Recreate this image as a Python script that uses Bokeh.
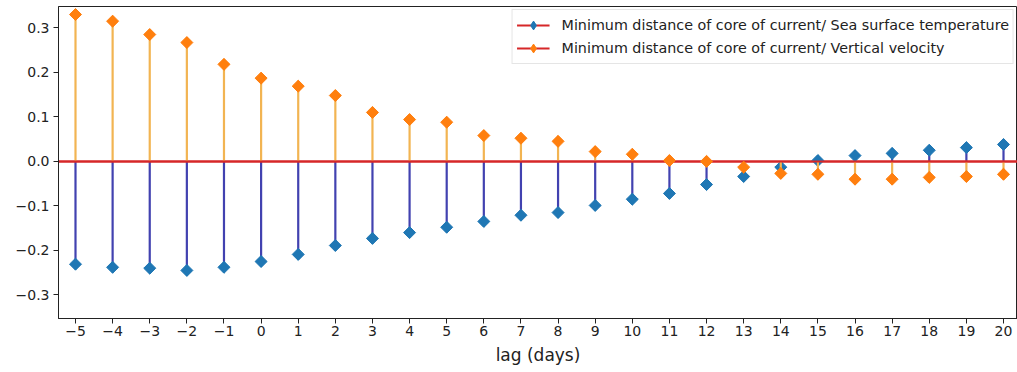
import numpy as np
from bokeh.plotting import figure
from bokeh.models import Range1d, FixedTicker, Legend, LegendItem
from bokeh.embed import file_html
from bokeh.resources import INLINE

# ---- data ----
lags = list(range(-5, 21))
sst_corr = [-0.231, -0.238, -0.240, -0.245, -0.238, -0.225, -0.209, -0.189, -0.173,
            -0.160, -0.148, -0.135, -0.121, -0.115, -0.099, -0.085, -0.072, -0.052,
            -0.034, -0.013, 0.002, 0.013, 0.018, 0.025, 0.031, 0.038]
vv_corr = [0.330, 0.315, 0.285, 0.267, 0.218, 0.187, 0.169, 0.148, 0.110, 0.094,
           0.088, 0.058, 0.052, 0.045, 0.022, 0.016, 0.002, 0.000, -0.013, -0.027,
           -0.029, -0.040, -0.040, -0.036, -0.034, -0.029]
labels = ["Minimum distance of core of current/ Sea surface temperature",
          "Minimum distance of core of current/ Vertical velocity"]
y_ticks = [-0.3, -0.2, -0.1, 0.0, 0.1, 0.2, 0.3]
y_tick_labels = ["\u22120.3", "\u22120.2", "\u22120.1", "0.0", "0.1", "0.2", "0.3"]
x_tick_labels = [str(v).replace("-", "\u2212") for v in lags]
x_label = "lag (days)"

FONT = "DejaVu Sans"
X0, X1 = -5.458, 20.377
Y0, Y1 = -0.353, 0.348

p = figure(width=1017, height=372, output_backend="svg", toolbar_location=None,
           x_range=Range1d(X0, X1), y_range=Range1d(Y0, Y1),
           min_border_left=58, min_border_right=0, min_border_top=6,
           min_border_bottom=54, background_fill_color="white",
           border_fill_color="white")
p.outline_line_color = "#222222"
p.outline_line_width = 1
p.xgrid.visible = False
p.ygrid.visible = False

zeros = [0.0] * len(lags)

# SST series
p.segment(x0=lags, y0=zeros, x1=lags, y1=sst_corr, line_color="#4242b0", line_width=2.2)
base1 = p.line(x=[X0, X1], y=[0, 0], line_color="#d62728", line_width=2)
# diamond drawn underneath the rotated squares (used as legend glyph)
lg1 = p.scatter(x=lags, y=sst_corr, marker="diamond", size=11,
                fill_color="#1f77b4", line_color="#1f77b4")
m1 = p.scatter(x=lags, y=sst_corr, marker="square", angle=np.pi / 4, size=8.5,
               fill_color="#1f77b4", line_color="#1f77b4")
# Vertical velocity series
p.segment(x0=lags, y0=zeros, x1=lags, y1=vv_corr, line_color="#f2b452", line_width=2.2)
base2 = p.line(x=[X0, X1], y=[0, 0], line_color="#d62728", line_width=2)
lg2 = p.scatter(x=lags, y=vv_corr, marker="diamond", size=11,
                fill_color="#ff7f0e", line_color="#ff7f0e")
m2 = p.scatter(x=lags, y=vv_corr, marker="square", angle=np.pi / 4, size=8.5,
               fill_color="#ff7f0e", line_color="#ff7f0e")

# axes
p.xaxis.ticker = FixedTicker(ticks=lags)
p.xaxis.major_label_overrides = {v: s for v, s in zip(lags, x_tick_labels)}
p.yaxis.ticker = FixedTicker(ticks=y_ticks)
p.yaxis.major_label_overrides = {v: s for v, s in zip(y_ticks, y_tick_labels)}
for ax in (p.xaxis[0], p.yaxis[0]):
    ax.major_label_text_font = FONT
    ax.major_label_text_font_size = "14px"
    ax.major_label_text_color = "#222222"
    ax.major_tick_out = 5
    ax.major_tick_in = 0
    ax.minor_tick_out = 0
    ax.minor_tick_in = 0
    ax.axis_line_color = "#222222"
    ax.major_tick_line_color = "#222222"
p.xaxis.major_label_standoff = 2
p.yaxis.major_label_standoff = 4
p.xaxis.axis_label = x_label
p.xaxis.axis_label_text_font = FONT
p.xaxis.axis_label_text_font_size = "17px"
p.xaxis.axis_label_text_font_style = "normal"
p.xaxis.axis_label_text_color = "#222222"
p.xaxis.axis_label_standoff = 6

legend = Legend(items=[LegendItem(label=labels[0], renderers=[base1, lg1]),
                       LegendItem(label=labels[1], renderers=[base2, lg2])],
                location="top_right", margin=3, padding=4, spacing=1,
                glyph_height=22, label_height=18, glyph_width=33, label_standoff=12,
                label_text_font=FONT, label_text_font_size="14.3px",
                label_text_color="#222222", border_line_color="#cccccc",
                border_line_width=1, background_fill_alpha=0.8)
p.add_layout(legend)

open("out.html", "w").write(file_html(p, INLINE))
